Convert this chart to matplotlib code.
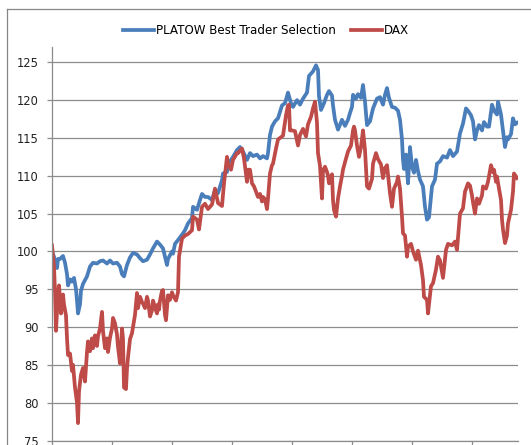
import matplotlib.pyplot as plt
from matplotlib.lines import Line2D

# trading-day index and index level (start = 100)
platow_days = [0, 2, 5, 6, 8, 11, 13, 15, 16, 18, 20, 22, 24, 25, 26, 28, 29, 31, 35, 38,
               41, 45, 48, 51, 55, 58, 61, 65, 68, 70, 72, 75, 78, 81, 85, 88, 91, 95, 98, 101,
               105, 108, 111, 115, 116, 120, 121, 123, 126, 130, 133, 136, 140, 141, 145, 148, 150, 153, 156, 160,
               163, 166, 170, 171, 175, 176, 179, 181, 185, 188, 191, 195, 198, 201, 205, 208, 211, 215, 216, 218,
               220, 223, 226, 230, 233, 236, 239, 241, 245, 248, 251, 255, 257, 261, 264, 266, 267, 269, 272, 275,
               277, 280, 281, 283, 286, 290, 293, 296, 298, 300, 301, 304, 306, 309, 311, 313, 315, 318, 321, 325,
               328, 331, 333, 335, 337, 340, 343, 346, 348, 350, 351, 352, 354, 356, 358, 360, 362, 364, 366, 368,
               371, 373, 375, 377, 380, 383, 385, 388, 391, 395, 398, 401, 405, 408, 411, 414, 416, 419, 421, 423,
               425, 427, 430, 432, 435, 437, 440, 442, 445, 446, 449, 451, 453, 455, 456, 459, 461, 463, 465]
platow = [100.0, 99.3, 97.8, 99.0, 99.0, 99.4, 98.5, 97.0, 95.5, 96.3, 96.0, 96.5, 95.0, 93.5, 91.8, 93.0, 94.8, 95.7, 96.7, 98.0,
          98.5, 98.4, 98.7, 98.8, 98.4, 98.8, 98.4, 98.5, 98.0, 97.0, 96.7, 98.2, 99.2, 99.8, 99.6, 99.1, 98.7, 98.9, 99.6, 100.4,
          101.3, 100.9, 100.4, 98.2, 99.0, 100.0, 99.7, 101.0, 101.5, 102.2, 102.8, 103.7, 104.4, 105.9, 105.5, 106.8, 107.6, 107.2, 107.2, 106.8,
          108.1, 107.7, 109.4, 110.3, 110.5, 111.6, 112.1, 112.5, 113.4, 113.8, 113.2, 112.1, 113.0, 112.6, 112.8, 112.3, 112.6, 112.3, 113.0, 115.4,
          116.5, 117.2, 117.6, 119.3, 119.6, 121.0, 119.6, 119.1, 120.0, 119.4, 120.2, 121.0, 123.2, 123.8, 124.6, 124.0, 120.5, 118.7, 119.6, 120.7,
          121.2, 120.6, 119.3, 117.4, 116.1, 117.4, 116.6, 117.4, 118.3, 119.1, 120.7, 120.2, 120.8, 120.3, 122.0, 119.8, 116.7, 117.2, 118.9, 120.2,
          120.4, 119.4, 120.7, 121.6, 120.3, 119.1, 119.0, 118.6, 117.4, 114.8, 112.1, 110.9, 112.8, 109.0, 113.8, 111.2, 110.4, 112.1, 110.6, 109.5,
          108.6, 105.9, 104.2, 104.5, 108.6, 109.5, 111.6, 111.9, 112.6, 112.4, 113.4, 112.6, 113.2, 115.6, 116.9, 118.9, 118.6, 118.0, 117.2, 114.8,
          116.0, 116.7, 116.0, 117.1, 116.5, 116.5, 119.4, 118.6, 118.1, 119.8, 118.1, 116.0, 113.8, 115.1, 114.8, 115.5, 117.6, 116.8, 117.0]

dax_days = [0, 2, 3, 4, 6, 7, 9, 11, 12, 14, 15, 16, 18, 20, 21, 23, 25, 26, 27, 29,
            31, 33, 35, 36, 38, 40, 41, 43, 45, 46, 48, 50, 51, 53, 55, 56, 58, 60, 61, 63,
            65, 66, 68, 70, 71, 72, 74, 75, 76, 78, 80, 81, 83, 85, 86, 88, 90, 91, 93, 95,
            96, 98, 100, 101, 103, 105, 106, 107, 108, 110, 111, 113, 114, 116, 118, 120, 121, 124, 126, 127,
            130, 133, 136, 140, 141, 145, 147, 150, 153, 156, 160, 163, 166, 170, 172, 175, 176, 179, 181, 185,
            186, 190, 192, 195, 196, 198, 200, 202, 204, 206, 208, 210, 211, 213, 215, 216, 218, 220, 221, 224,
            226, 228, 231, 234, 236, 237, 238, 240, 243, 246, 248, 251, 254, 256, 259, 261, 263, 265, 266, 268,
            270, 271, 273, 275, 276, 277, 278, 280, 281, 282, 284, 286, 288, 290, 291, 293, 296, 299, 301, 302,
            303, 305, 307, 309, 311, 313, 315, 317, 320, 321, 324, 326, 329, 331, 333, 335, 338, 340, 342, 345,
            346, 348, 350, 351, 353, 355, 356, 359, 361, 364, 366, 369, 371, 372, 375, 376, 379, 381, 384, 386,
            388, 391, 394, 396, 400, 403, 405, 408, 411, 413, 416, 418, 420, 421, 423, 425, 427, 430, 431, 434,
            436, 439, 441, 442, 444, 445, 447, 449, 450, 451, 453, 455, 456, 459, 461, 462, 465]
dax = [100.8, 98.0, 94.7, 89.5, 94.5, 95.5, 91.8, 94.3, 93.0, 91.5, 88.5, 86.3, 86.5, 84.2, 85.0, 82.0, 80.0, 77.3, 81.5, 83.7,
       84.6, 82.8, 86.7, 88.1, 86.8, 88.5, 87.2, 88.9, 87.5, 88.8, 89.8, 92.0, 89.5, 87.2, 88.5, 86.7, 88.6, 89.8, 91.2, 90.5,
       89.0, 87.4, 85.2, 89.8, 88.5, 82.0, 81.8, 84.5, 86.0, 88.4, 89.2, 90.0, 91.6, 94.5, 92.5, 94.0, 93.3, 93.1, 92.5, 94.0,
       93.5, 91.4, 92.2, 93.5, 92.6, 91.8, 93.0, 92.3, 93.5, 94.8, 94.9, 91.6, 90.9, 94.2, 93.6, 94.6, 94.2, 93.5, 94.6, 99.3,
       101.7, 102.1, 102.3, 102.8, 104.6, 104.2, 102.9, 105.9, 106.3, 105.6, 106.2, 108.3, 106.4, 106.0, 109.0, 112.5, 111.6, 110.8, 112.1, 113.0,
       113.0, 113.6, 112.3, 109.2, 110.8, 110.8, 109.0, 108.6, 107.9, 107.2, 107.6, 106.6, 107.2, 106.9, 105.6, 107.0, 110.3, 111.4, 111.6, 113.6,
       114.8, 115.0, 115.3, 118.0, 119.3, 119.4, 116.0, 116.0, 115.9, 114.0, 115.4, 116.2, 115.2, 116.8, 117.8, 118.9, 119.8, 117.0, 113.0, 111.3,
       107.0, 110.7, 111.2, 110.5, 110.0, 109.0, 109.5, 110.2, 106.8, 105.5, 104.6, 107.0, 108.6, 110.0, 110.8, 111.8, 113.2, 114.0, 116.0, 116.5,
       116.0, 114.0, 112.5, 113.8, 116.0, 113.4, 108.6, 108.3, 109.6, 111.6, 113.0, 112.2, 111.5, 109.7, 111.0, 111.4, 107.7, 105.9, 108.3, 109.2,
       109.9, 108.3, 104.6, 102.4, 102.1, 99.3, 100.6, 101.0, 100.0, 98.9, 100.1, 98.2, 96.2, 94.0, 93.6, 91.8, 95.4, 95.8, 97.6, 99.3,
       98.8, 96.5, 100.2, 101.0, 100.8, 101.3, 100.2, 105.0, 105.7, 107.9, 109.0, 108.7, 107.4, 106.5, 105.0, 107.0, 106.3, 107.4, 108.6, 108.3,
       109.2, 111.4, 110.5, 110.8, 109.2, 109.9, 108.3, 106.8, 104.2, 102.9, 101.1, 102.1, 103.7, 105.5, 107.9, 110.3, 109.7]

y_ticks = [75, 80, 85, 90, 95, 100, 105, 110, 115, 120, 125]

fig = plt.figure(figsize=(5.31, 4.45), dpi=100)
ax = fig.add_axes([52 / 531, 4.5 / 445, 466 / 531, 393.3 / 445])

grid_col = '#8c8c8c'
ax.plot(platow_days, platow, color='#4a7ebb', lw=2.7, label='PLATOW Best Trader Selection',
        solid_joinstyle='round')
ax.plot(dax_days, dax, color='#be4b48', lw=2.7, label='DAX', solid_joinstyle='round')

ax.set_xlim(0, 466)
ax.set_ylim(75, 127)
ax.set_yticks(y_ticks)
ax.set_xticks(range(0, 466, 60))
ax.set_xticklabels([])
ax.yaxis.grid(True, color=grid_col, lw=0.9)
ax.set_axisbelow(True)

for s in ['top', 'right']:
    ax.spines[s].set_visible(False)
for s in ['left', 'bottom']:
    ax.spines[s].set_color(grid_col)
    ax.spines[s].set_linewidth(0.9)
ax.tick_params(axis='both', direction='out', length=3.5, width=0.9, color=grid_col,
               labelsize=8.3, labelcolor='#222222')
ax.tick_params(axis='y', pad=6)

fig.legend(loc='center', bbox_to_anchor=(266 / 531, 1 - 31 / 445), ncol=2, frameon=False,
           fontsize=8.6, handlelength=2.6, handletextpad=0.15, columnspacing=1.3)
for h in fig.legends[0].get_lines():
    h.set_linewidth(2.7)

# chart area border (left and top edge visible in crop)
fig.add_artist(Line2D([7 / 531, 7 / 531], [0, 1 - 9 / 445], color='#868686', lw=0.9))
fig.add_artist(Line2D([7 / 531, 1], [1 - 9 / 445, 1 - 9 / 445], color='#868686', lw=0.9))

fig.savefig('out.png', dpi=100)
